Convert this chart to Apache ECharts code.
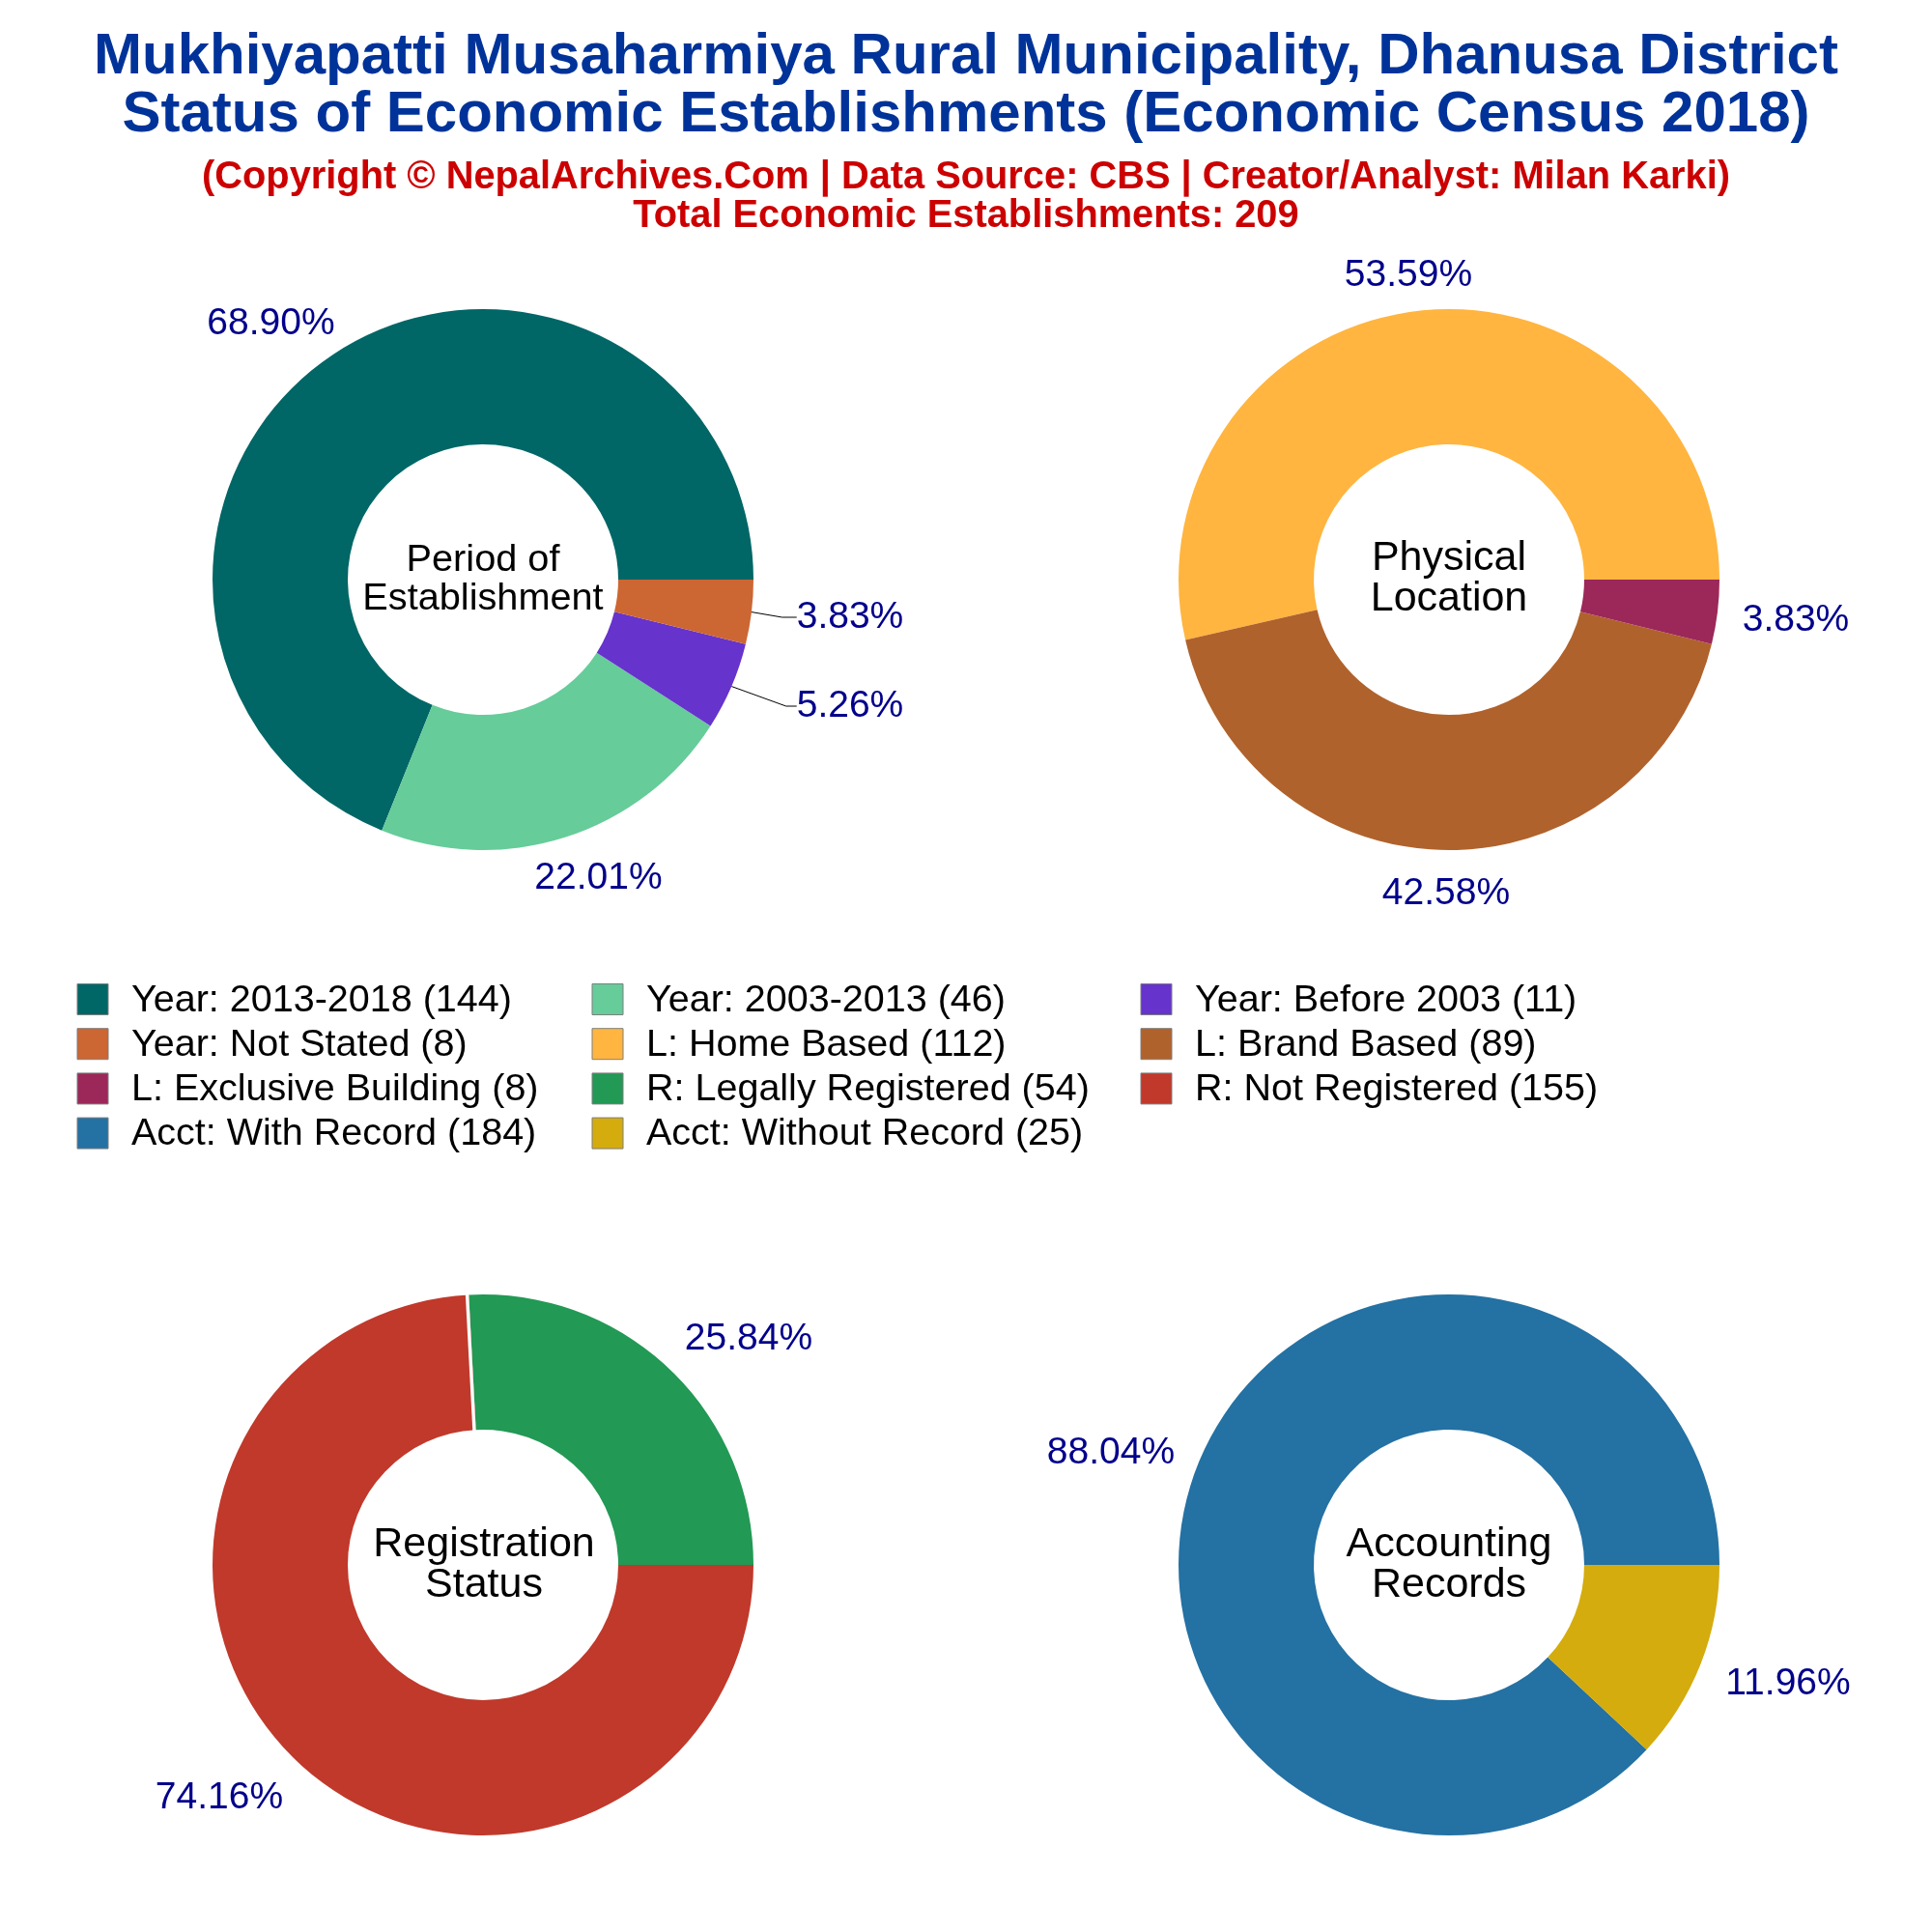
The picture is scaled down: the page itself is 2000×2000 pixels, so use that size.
<!DOCTYPE html>
<html>
<head>
    <meta charset="UTF-8">
    <title>Economic Establishments</title>
    <style>
        html, body { margin: 0; padding: 0; background: #fff; }
        #container { width: 2000px; height: 2000px; }
    </style>
</head>
<body>
    <div id="container"></div>
    <script src="https://cdn.jsdelivr.net/npm/echarts@6/dist/echarts.min.js"></script>
    <script type="text/javascript">
        var periodNames = ['Year: 2013-2018', 'Year: 2003-2013', 'Year: Before 2003', 'Year: Not Stated'];
        var periodValues = [144, 46, 11, 8];
        var periodColors = ['#006666', '#66CC99', '#6633CC', '#CC6633'];

        var locationNames = ['L: Home Based', 'L: Brand Based', 'L: Exclusive Building'];
        var locationValues = [112, 89, 8];
        var locationColors = ['#FFB53F', '#B0622C', '#9C2759'];

        var registrationNames = ['R: Legally Registered', 'R: Not Registered'];
        var registrationValues = [54, 155];
        var registrationColors = ['#229954', '#C0392B'];

        var accountNames = ['Acct: With Record', 'Acct: Without Record'];
        var accountValues = [184, 25];
        var accountColors = ['#2471A3', '#D4AC0D'];

        var TEXT_FONT = '"Liberation Sans", Arial, sans-serif';
        var OUTER_R = 280;
        var INNER_R = 140;

        function legendName(name, value) {
            return name + ' (' + value + ')';
        }

        // labelPos: where the percent labels sit (center x, center y)
        // elbows: last segment length of the leader line, by slice index
        function donut(names, values, colors, center, labelPos, elbows) {
            var total = values.reduce(function (a, b) { return a + b; }, 0);
            return {
                type: 'pie',
                center: center,
                radius: [INNER_R, OUTER_R],
                startAngle: 0,
                clockwise: false,
                avoidLabelOverlap: false,
                silent: true,
                label: {
                    show: true,
                    position: 'outside',
                    color: '#00008B',
                    fontFamily: TEXT_FONT,
                    fontSize: 39,
                    padding: [0, 6],
                    formatter: function (p) {
                        return (p.value / total * 100).toFixed(2) + '%';
                    }
                },
                labelLine: { show: false },
                labelLayout: function (p) {
                    return {
                        x: labelPos[p.dataIndex][0],
                        y: labelPos[p.dataIndex][1],
                        align: 'center',
                        verticalAlign: 'middle'
                    };
                },
                data: values.map(function (v, i) {
                    var item = {
                        name: legendName(names[i], v),
                        value: v,
                        itemStyle: { color: colors[i] }
                    };
                    if (elbows && elbows[i]) {
                        item.labelLine = {
                            show: true,
                            length2: elbows[i],
                            lineStyle: { color: '#000', width: 1 }
                        };
                    }
                    return item;
                })
            };
        }

        function legendCol(left, data) {
            return {
                orient: 'vertical',
                left: left,
                top: 1016,
                icon: 'rect',
                itemWidth: 32,
                itemHeight: 32,
                itemGap: 6.2,
                selectedMode: false,
                padding: 0,
                itemStyle: { borderColor: '#7f7f7f', borderWidth: 1 },
                formatter: '{t|{name}}',
                textStyle: {
                    rich: {
                        // top padding nudges the text down against the swatch
                        t: {
                            color: '#000',
                            fontFamily: TEXT_FONT,
                            fontSize: 39.5,
                            padding: [3, 0, 0, 19]
                        }
                    }
                },
                data: data
            };
        }

        function heading(text, top, size, color, bold) {
            return {
                text: text,
                left: 1000,
                top: top,
                textAlign: 'center',
                padding: 0,
                textStyle: {
                    color: color,
                    fontFamily: TEXT_FONT,
                    fontSize: size,
                    fontWeight: bold ? 'bold' : 'normal',
                    lineHeight: size
                }
            };
        }

        function holeText(lines, x, y, size, lineGap) {
            return {
                text: lines.join('\n'),
                left: x,
                top: y - lineGap,
                textAlign: 'center',
                padding: 0,
                textStyle: {
                    color: '#000',
                    fontFamily: TEXT_FONT,
                    fontSize: size,
                    fontWeight: 'normal',
                    lineHeight: lineGap
                }
            };
        }

        // thin white sliver on the red side of the green/red boundary
        function registrationGap(cx, cy) {
            var a = registrationValues[0] / (registrationValues[0] + registrationValues[1]) * 2 * Math.PI;
            var dx = Math.cos(a), dy = -Math.sin(a);
            var off = -1.7;
            return {
                type: 'line',
                silent: true,
                z: 100,
                shape: {
                    x1: cx + dx * (INNER_R - 2) - dy * off,
                    y1: cy + dy * (INNER_R - 2) + dx * off,
                    x2: cx + dx * (OUTER_R + 2) - dy * off,
                    y2: cy + dy * (OUTER_R + 2) + dx * off
                },
                style: { stroke: '#fff', lineWidth: 3.4 }
            };
        }

        var myChart = echarts.init(document.getElementById('container'));
        var option = {
            animation: false,
            backgroundColor: '#fff',
            title: [
                heading('Mukhiyapatti Musaharmiya Rural Municipality, Dhanusa District', 29, 60, '#003399', true),
                heading('Status of Economic Establishments (Economic Census 2018)', 89, 60, '#003399', true),
                heading('(Copyright © NepalArchives.Com | Data Source: CBS | Creator/Analyst: Milan Karki)', 164.5, 39.8, '#CC0000', true),
                heading('Total Economic Establishments: 209', 204, 39.8, '#CC0000', true),
                holeText(['Period of', 'Establishment'], 500, 600, 39.7, 40),
                holeText(['Physical', 'Location'], 1500, 599, 43, 42),
                holeText(['Registration', 'Status'], 501, 1620, 43, 42),
                holeText(['Accounting', 'Records'], 1500, 1620, 43, 42)
            ],
            legend: [
                legendCol(79.5, [
                    legendName(periodNames[0], periodValues[0]),
                    legendName(periodNames[3], periodValues[3]),
                    legendName(locationNames[2], locationValues[2]),
                    legendName(accountNames[0], accountValues[0])
                ]),
                legendCol(612.5, [
                    legendName(periodNames[1], periodValues[1]),
                    legendName(locationNames[0], locationValues[0]),
                    legendName(registrationNames[0], registrationValues[0]),
                    legendName(accountNames[1], accountValues[1])
                ]),
                legendCol(1180.5, [
                    legendName(periodNames[2], periodValues[2]),
                    legendName(locationNames[1], locationValues[1]),
                    legendName(registrationNames[1], registrationValues[1])
                ])
            ],
            graphic: [registrationGap(500, 1620)],
            series: [
                donut(periodNames, periodValues, periodColors, [500, 600],
                    [[280.5, 335], [619.5, 909], [880, 731], [880, 639]], { 2: 11, 3: 15 }),
                donut(locationNames, locationValues, locationColors, [1500, 600],
                    [[1458, 285], [1497, 925], [1859, 642]]),
                donut(registrationNames, registrationValues, registrationColors, [500, 1620],
                    [[775, 1386], [227, 1861]]),
                donut(accountNames, accountValues, accountColors, [1500, 1620],
                    [[1150, 1504], [1851, 1743]])
            ]
        };
        myChart.setOption(option);
    </script>
</body>
</html>
